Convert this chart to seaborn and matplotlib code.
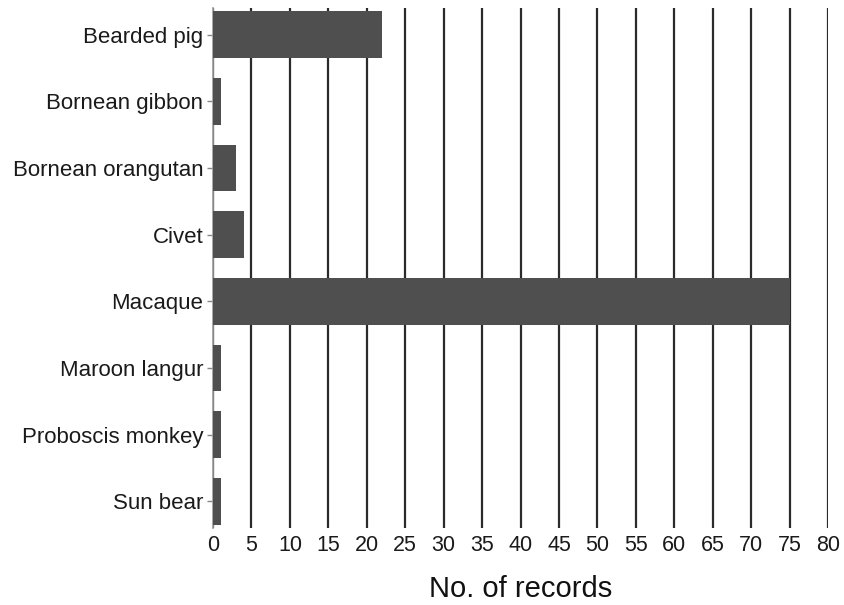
import matplotlib
matplotlib.use("Agg")
import matplotlib.pyplot as plt
import seaborn as sns
import pandas as pd

species = ["Bearded pig", "Bornean gibbon", "Bornean orangutan", "Civet",
           "Macaque", "Maroon langur", "Proboscis monkey", "Sun bear"]
records = [22, 1, 3, 4, 75, 1, 1, 1]
x_ticks = list(range(0, 81, 5))

sns.set_theme(style="white")
plt.rcParams["font.family"] = ["Liberation Sans", "DejaVu Sans"]

df = pd.DataFrame({"species": species, "records": records})

fig = plt.figure(figsize=(8.44, 6.05), dpi=100)
ax = fig.add_axes([213 / 844, 1 - 528 / 605, 615 / 844, 520 / 605])

sns.barplot(data=df, x="records", y="species", order=species, orient="h",
            color="#4f4f4f", saturation=1, width=0.7, linewidth=0,
            edgecolor="none", ax=ax, zorder=3)

ax.set_xlim(0, 80)
ax.set_ylim(len(species) - 0.6, -0.4)
ax.set_xticks(x_ticks)
ax.set_xticklabels([str(t) for t in x_ticks], fontsize=15.5, color="#1a1a1a")
ax.tick_params(axis="x", length=0, pad=5)
ax.tick_params(axis="y", left=True, length=4, width=1, color="#888888",
               labelsize=16, labelcolor="#1a1a1a", pad=3)

ax.grid(axis="x", color="#2b2b2b", linewidth=1.6, zorder=0)
ax.grid(axis="y", visible=False)
ax.set_axisbelow(True)

for side in ["top", "right", "bottom"]:
    ax.spines[side].set_visible(False)
ax.spines["left"].set_color("#999999")
ax.spines["left"].set_linewidth(1.2)

ax.set_ylabel("")
ax.set_xlabel("No. of records", fontsize=21, color="#111111", labelpad=14)

fig.savefig("out.png", dpi=100, facecolor="white")
